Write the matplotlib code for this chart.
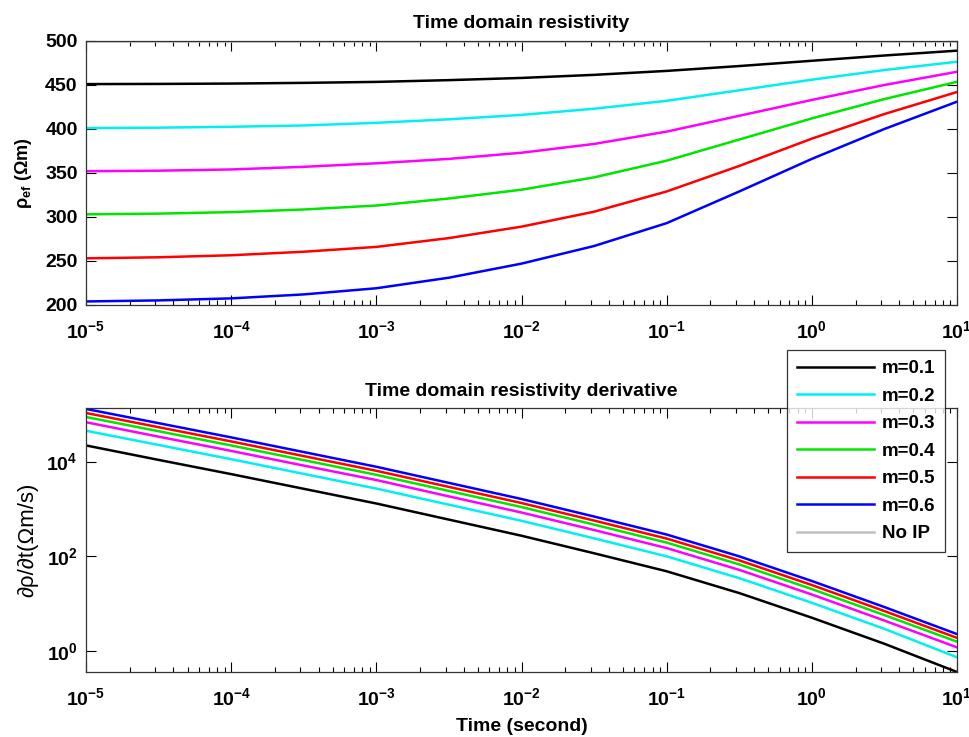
import math
import matplotlib
matplotlib.use("Agg")
import matplotlib.pyplot as plt
from matplotlib.ticker import FixedLocator, FuncFormatter, LogLocator, NullLocator

plt.rcParams['font.family'] = ['Liberation Sans', 'DejaVu Sans']
plt.rcParams['mathtext.fontset'] = 'custom'
plt.rcParams['mathtext.rm'] = 'Liberation Sans'
plt.rcParams['mathtext.bf'] = 'Liberation Sans:bold'
plt.rcParams['mathtext.it'] = 'Liberation Sans:italic'

# time points (seconds), half-decade steps
t = [1e-5, 10**-4.5, 1e-4, 10**-3.5, 1e-3, 10**-2.5, 1e-2, 10**-1.5, 1e-1, 10**-0.5, 1e0, 10**0.5, 1e1]

labels = ["m=0.1", "m=0.2", "m=0.3", "m=0.4", "m=0.5", "m=0.6"]
colors = ["#000000", "#00f0f0", "#ff00ff", "#00e600", "#ff0000", "#0000ff"]

# effective resistivity (Ohm m)
rho_m1 = [451, 451.2, 451.6, 452.4, 453.5, 455.5, 458, 461.5, 466, 471.5, 477.5, 483.5, 489]
rho_m2 = [401, 401.5, 402.5, 404, 407, 411, 416, 423, 432, 444, 456, 467, 476.4]
rho_m3 = [352, 352.6, 354, 357, 361, 366, 373, 383, 397, 415, 433, 450, 465]
rho_m4 = [303, 303.8, 305.5, 308.5, 313, 321, 331, 345, 364, 388, 412, 434, 453.6]
rho_m5 = [253, 254.2, 256.5, 260.5, 266, 276, 289, 306, 329, 358, 389, 417, 442]
rho_m6 = [204, 205.2, 207.5, 212, 219, 231, 247, 267, 293, 329, 366, 400, 431]
rho_noip = [500] * len(t)

# derivative (Ohm m / s), log10 values
dlog_m1 = [4.34, 4.035, 3.735, 3.425, 3.115, 2.775, 2.435, 2.065, 1.685, 1.225, 0.705, 0.155, -0.44]
dlog_m2 = [4.65, 4.35, 4.05, 3.74, 3.43, 3.09, 2.75, 2.38, 2.0, 1.54, 1.02, 0.47, -0.13]
dlog_m3 = [4.83, 4.525, 4.225, 3.915, 3.61, 3.265, 2.925, 2.555, 2.175, 1.715, 1.195, 0.645, 0.08]
dlog_m4 = [4.94, 4.64, 4.34, 4.03, 3.72, 3.38, 3.04, 2.67, 2.29, 1.83, 1.31, 0.76, 0.20]
dlog_m5 = [5.025, 4.725, 4.425, 4.115, 3.805, 3.465, 3.125, 2.755, 2.375, 1.915, 1.395, 0.845, 0.28]
dlog_m6 = [5.11, 4.81, 4.51, 4.20, 3.89, 3.55, 3.21, 2.84, 2.46, 2.00, 1.48, 0.93, 0.36]

rho_all = [rho_m1, rho_m2, rho_m3, rho_m4, rho_m5, rho_m6]
dlog_all = [dlog_m1, dlog_m2, dlog_m3, dlog_m4, dlog_m5, dlog_m6]

fig = plt.figure(figsize=(9.7, 7.37), dpi=100)
ax1 = fig.add_axes([0.0887, 0.5862, 0.8979, 0.3582])
ax2 = fig.add_axes([0.0887, 0.0882, 0.8979, 0.3582])

lines = []
for rho, c, lab in zip(rho_all, colors, labels):
    ln, = ax1.plot(t, rho, color=c, lw=1.8, label=lab)
    lines.append(ln)
ln_noip, = ax1.plot(t, rho_noip, color="#c0c0c0", lw=1.8, label="No IP")
lines.append(ln_noip)

for d, c in zip(dlog_all, colors):
    ax2.plot(t, [10 ** v for v in d], color=c, lw=1.8)


def log_fmt(x, pos):
    e = int(round(math.log10(x)))
    return r"$\mathbf{10^{%d}}$" % e


for ax in (ax1, ax2):
    ax.set_xscale("log")
    ax.set_xlim(1e-5, 1e1)
    ax.xaxis.set_major_locator(FixedLocator([1e-5, 1e-4, 1e-3, 1e-2, 1e-1, 1e0, 1e1]))
    ax.xaxis.set_minor_locator(LogLocator(base=10, subs=range(2, 10), numticks=20))
    ax.xaxis.set_major_formatter(FuncFormatter(log_fmt))
    ax.tick_params(which="both", direction="in", top=True, right=True, width=0.8)
    ax.tick_params(which="major", length=7, labelsize=14)
    ax.tick_params(axis="x", which="major", pad=11)
    ax.tick_params(axis="y", which="major", pad=6)
    ax.tick_params(which="minor", length=3.5)
    for s in ax.spines.values():
        s.set_linewidth(0.9)
        s.set_color("#333333")

ax1.set_ylim(200, 500)
ax1.yaxis.set_major_locator(FixedLocator([200, 250, 300, 350, 400, 450, 500]))
for lab in ax1.get_yticklabels():
    lab.set_fontweight("bold")
ax1.set_title("Time domain resistivity", fontsize=14, fontweight="bold", pad=9)
ax1.set_ylabel(r"$\mathbf{\rho_{ef}}$ (Ωm)", fontsize=13, fontweight="bold", labelpad=8)

ax2.set_yscale("log")
ax2.set_ylim(10 ** -0.44, 10 ** 5.13)
ax2.yaxis.set_major_locator(FixedLocator([1, 1e2, 1e4]))
ax2.yaxis.set_minor_locator(NullLocator())
ax2.yaxis.set_major_formatter(FuncFormatter(log_fmt))
ax2.set_title("Time domain resistivity derivative", fontsize=14, fontweight="bold", pad=9)
ax2.set_ylabel("∂ρ/∂t(Ωm/s)", fontsize=16, labelpad=6)
ax2.set_xlabel("Time (second)", fontsize=14, fontweight="bold", labelpad=6)

leg = fig.legend(handles=lines, loc="upper left", bbox_to_anchor=(787 / 970, 1 - 350 / 737),
                 borderaxespad=0, prop={"weight": "bold", "size": 13.5}, frameon=True,
                 fancybox=False, edgecolor="black", handlelength=4.1, handletextpad=0.4,
                 labelspacing=0.55, borderpad=0.55)
leg.get_frame().set_linewidth(0.9)

fig.savefig("out.png", dpi=100)
